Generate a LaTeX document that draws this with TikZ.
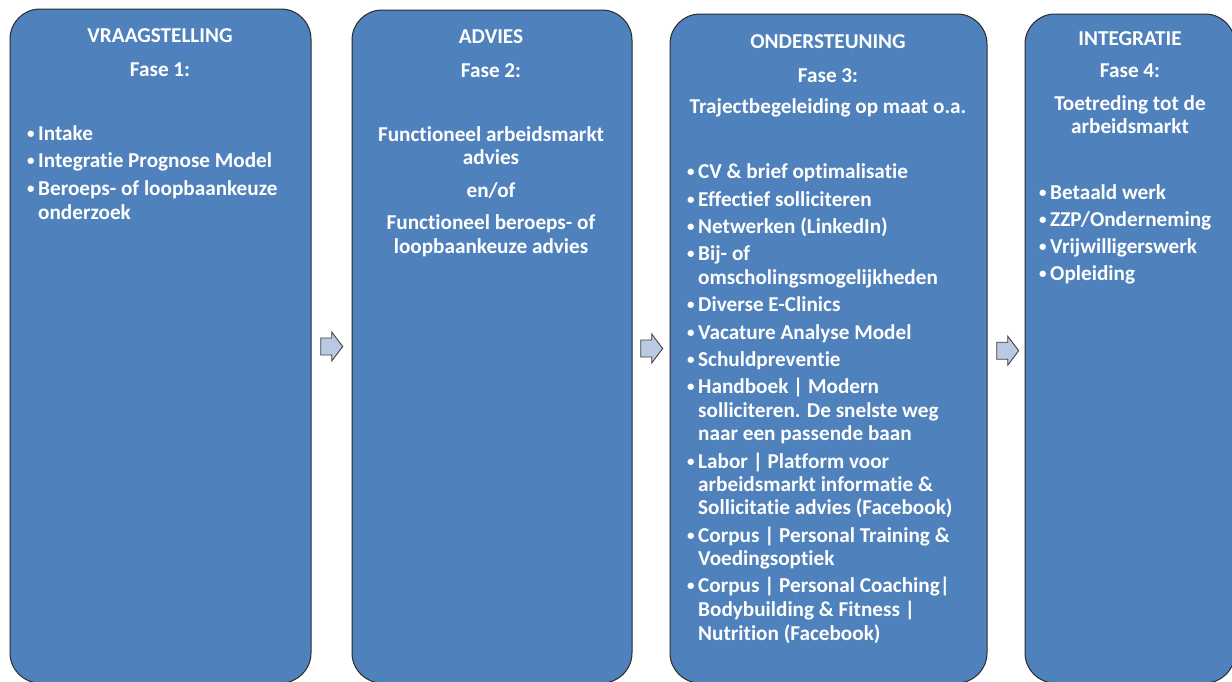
\documentclass[tikz,border=0pt]{standalone}
\usepackage{fontspec}
\setmainfont{Carlito}[Ligatures=NoCommon]
\definecolor{boxblue}{HTML}{4F81BD}
\definecolor{boxline}{HTML}{2A2A2A}
\definecolor{arrfill}{HTML}{B9C9E3}
\definecolor{arrline}{HTML}{404040}
\newcommand\bul{\llap{\raisebox{1.5pt}{\fontsize{15}{15}\selectfont•}\hspace{3.5pt}}}
\tikzset{
  phasebox/.style={draw=boxline, line width=1pt, fill=boxblue, rounded corners=30pt, inner sep=0pt},
  txt/.style={text=white, font=\fontsize{21.2}{24}\selectfont\bfseries, inner sep=0pt, anchor=base},
  lst/.style={txt, anchor=base west},
  chev/.style={draw=arrline, line width=0.9pt, fill=arrfill, line join=miter},
}
\begin{document}
\begin{tikzpicture}[x=1pt,y=-1pt]
\useasboundingbox (0,0) rectangle (1232,681);
\fill[white] (0,0) rectangle (1232,681);
% boxes
\node[phasebox, minimum width=301pt, minimum height=674pt] (b1) at (160.5,346) {};
\node[phasebox, minimum width=280pt, minimum height=673pt] (b2) at (492,346.5) {};
\node[phasebox, minimum width=317pt, minimum height=669pt] (b3) at (828.5,348.5) {};
\node[phasebox, minimum width=210pt, minimum height=669pt] (b4) at (1130,348.5) {};
% arrows
\coordinate (a1) at (320.7,346.5);
\coordinate (a2) at (640.7,348.5);
\coordinate (a3) at (996.7,350.7);
\foreach \a in {a1,a2,a3}
  \draw[chev, shift={(\a)}] (0,-8.5) -- (11,-8.5) -- (11,-14.5) -- (22,0) -- (11,14.5) -- (11,8.5) -- (0,8.5) -- cycle;
% box 1
\node[txt] (h1) at (160,42) {VRAAGSTELLING};
\node[txt] (f1) at (160,76) {Fase 1:};
\foreach \y/\t [count=\i] in {140/{\bul Intake},167/{\bul Integratie Prognose Model},195/{\bul Beroeps- of loopbaankeuze},219/{onderzoek}}
  \node[lst] (l1-\i) at (38,\y) {\t};
% box 2
\node[txt] (h2) at (491,43) {ADVIES};
\node[txt] (f2) at (491,77) {Fase 2:};
\foreach \y/\t [count=\i] in {141/{Functioneel arbeidsmarkt},164/{advies},197/{en/of},229/{Functioneel beroeps- of},253/{loopbaankeuze advies}}
  \node[txt] (m2-\i) at (491,\y) {\t};
% box 3
\node[txt] (h3) at (828,48.5) {ONDERSTEUNING};
\node[txt] (f3) at (828,82) {Fase 3:};
\node[txt] (s3) at (828,113) {Trajectbegeleiding op maat o.a.};
\foreach \y/\t [count=\i] in {
  178/{\bul CV \& brief optimalisatie},
  206/{\bul Effectief solliciteren},
  233/{\bul Netwerken (LinkedIn)},
  260/{\bul Bij- of},
  284/{omscholingsmogelijkheden},
  311/{\bul Diverse E-Clinics},
  339/{\bul Vacature Analyse Model},
  366/{\bul Schuldpreventie},
  393/{\bul Handboek | Modern},
  417/{solliciteren. De snelste weg},
  440/{naar een passende baan},
  468/{\bul Labor | Platform voor},
  491/{arbeidsmarkt informatie \&},
  514/{Sollicitatie advies (Facebook)},
  542/{\bul Corpus | Personal Training \&},
  565/{Voedingsoptiek},
  592/{\bul Corpus | Personal Coaching|},
  616/{Bodybuilding \& Fitness |},
  640/{Nutrition (Facebook)}}
  \node[lst] (l3-\i) at (698,\y) {\t};
% box 4
\node[txt] (h4) at (1130,45) {INTEGRATIE};
\node[txt] (f4) at (1130,77) {Fase 4:};
\node[txt] (s4a) at (1130,110) {Toetreding tot de};
\node[txt] (s4b) at (1130,133) {arbeidsmarkt};
\foreach \y/\t [count=\i] in {199/{\bul Betaald werk},226/{\bul ZZP/Onderneming},253/{\bul Vrijwilligerswerk},280/{\bul Opleiding}}
  \node[lst] (l4-\i) at (1050,\y) {\t};
\end{tikzpicture}
\end{document}
